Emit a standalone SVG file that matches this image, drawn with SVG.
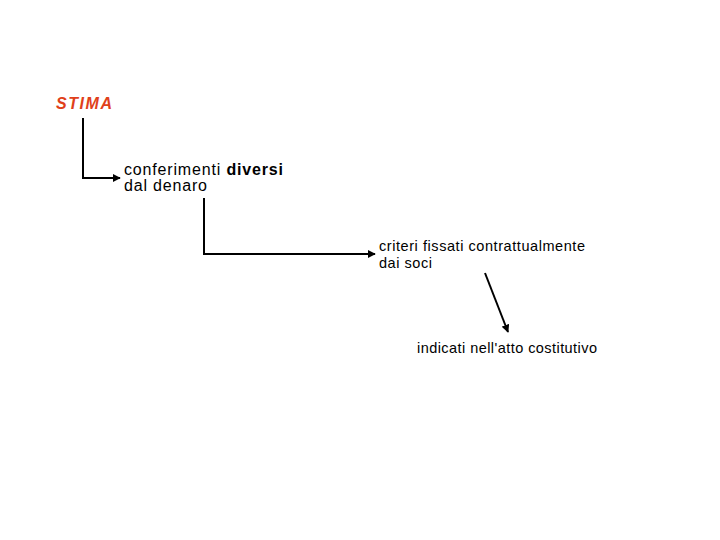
<svg xmlns="http://www.w3.org/2000/svg" width="720" height="540" viewBox="0 0 720 540">
<style>
text{font-family:"Liberation Sans",Arial,sans-serif;fill:#000}
.big{font-size:16px}
.sm{font-size:14.5px}
.conn{fill:none;stroke:#000;stroke-width:2}
</style>
<defs>
<marker id="ah" viewBox="0 0 10 10" refX="9" refY="5" markerWidth="4" markerHeight="4" markerUnits="strokeWidth" orient="auto">
<path d="M0,0 L10,5 L0,10 z" fill="#000"/>
</marker>
</defs>
<rect width="720" height="540" fill="#fff"/>
<g id="connectors">
<polyline class="conn" points="83,118 83,178 120,178" marker-end="url(#ah)"/>
<polyline class="conn" points="204,198 204,254 375,254" marker-end="url(#ah)"/>
<line class="conn" x1="485" y1="273" x2="508" y2="332" marker-end="url(#ah)"/>
</g>
<g id="stima">
<text x="56" y="109" textLength="56" lengthAdjust="spacing" style="font-size:16px;fill:#e0401a;font-weight:bold;font-style:italic">STIMA</text>
</g>
<g id="conferimenti">
<text x="124" y="175" class="big" textLength="159" lengthAdjust="spacing">conferimenti <tspan font-weight="bold">diversi</tspan></text>
<text x="124" y="191" class="big" textLength="83" lengthAdjust="spacing">dal denaro</text>
</g>
<g id="criteri">
<text x="379" y="251" class="sm" textLength="206" lengthAdjust="spacing">criteri fissati contrattualmente</text>
<text x="379" y="268" class="sm" textLength="53" lengthAdjust="spacing">dai soci</text>
</g>
<g id="indicati">
<text x="417" y="353" class="sm" textLength="180" lengthAdjust="spacing">indicati nell'atto costitutivo</text>
</g>
</svg>
